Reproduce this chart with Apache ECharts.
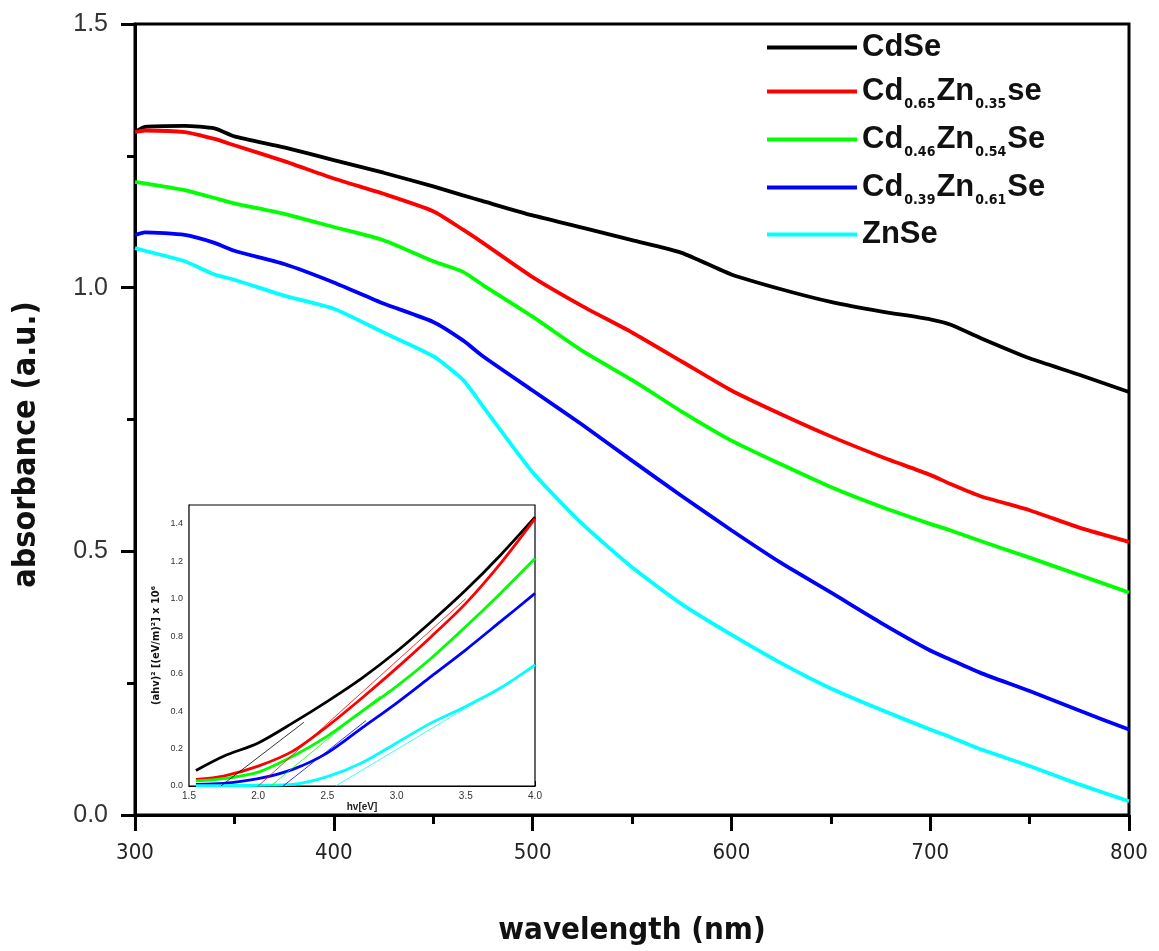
<!DOCTYPE html>
<html><head><meta charset="utf-8">
<script src="https://cdn.jsdelivr.net/npm/echarts@6/dist/echarts.min.js"></script>
<style>html,body{margin:0;padding:0;background:#fff}#c{width:1159px;height:951px}</style>
</head><body><div id="c"></div>
<script>
// ---- main chart data (absorbance vs wavelength) ----
const wavelengths = [300,305,325,340,350,375,400,425,450,465,475,500,525,550,575,600,625,650,675,700,710,725,750,775,800];
const absCdSe   = [1.295,1.305,1.307,1.302,1.287,1.266,1.242,1.218,1.192,1.175,1.164,1.137,1.114,1.090,1.066,1.025,0.997,0.973,0.955,0.940,0.930,0.905,0.866,0.835,0.802];
const absCd065  = [1.295,1.298,1.295,1.282,1.270,1.240,1.207,1.178,1.145,1.110,1.085,1.020,0.965,0.915,0.860,0.805,0.760,0.718,0.680,0.645,0.628,0.605,0.578,0.545,0.518];
const absCd046  = [1.200,1.198,1.185,1.170,1.160,1.140,1.115,1.090,1.050,1.030,1.005,0.945,0.880,0.825,0.765,0.710,0.665,0.622,0.585,0.552,0.540,0.520,0.488,0.455,0.422];
const absCd039  = [1.100,1.105,1.100,1.085,1.070,1.045,1.010,0.970,0.935,0.900,0.870,0.805,0.740,0.672,0.605,0.540,0.478,0.422,0.365,0.312,0.295,0.270,0.235,0.198,0.162];
const absZnSe   = [1.075,1.070,1.050,1.025,1.015,0.985,0.960,0.915,0.870,0.825,0.775,0.650,0.552,0.470,0.400,0.342,0.288,0.240,0.200,0.162,0.148,0.125,0.093,0.058,0.026];
const seriesNames = ['CdSe','Cd0.65Zn0.35se','Cd0.46Zn0.54Se','Cd0.39Zn0.61Se','ZnSe'];
const seriesColors = ['#000000','#ff0000','#00ff00','#0000ff','#00ffff'];

// ---- inset data (Tauc plot) ----
const energy   = [1.55,1.75,2.0,2.25,2.5,2.75,3.0,3.25,3.5,3.75,4.0];
const taucCdSe  = [0.083,0.159,0.230,0.337,0.452,0.576,0.718,0.877,1.046,1.232,1.435];
const taucCd065 = [0.035,0.053,0.106,0.186,0.319,0.470,0.629,0.797,0.975,1.187,1.427];
const taucCd046 = [0.027,0.039,0.074,0.159,0.266,0.399,0.532,0.682,0.851,1.028,1.214];
const taucCd039 = [0.009,0.014,0.039,0.089,0.177,0.310,0.443,0.585,0.727,0.877,1.028];
const taucZnSe  = [0.002,0.002,0.004,0.009,0.050,0.124,0.230,0.337,0.425,0.523,0.647];
// linear fits: start energy (value 0), end energy, end value
const fitStartEv = [1.73,2.00,2.09,2.18,2.56];
const fitEndEv   = [2.33,3.50,2.88,2.78,4.00];
const fitEndVal  = [0.34,1.00,0.48,0.35,0.638];

const mainData = [absCdSe,absCd065,absCd046,absCd039,absZnSe];
const taucData = [taucCdSe,taucCd065,taucCd046,taucCd039,taucZnSe];

const narrow = "'Liberation Sans Narrow','DejaVu Sans Condensed','Arial Narrow',sans-serif";
const sans = "'Liberation Sans',Arial,sans-serif";

const legendRich = {
  'CdSe': '{b|CdSe}',
  'Cd0.65Zn0.35se': '{b|Cd}{s|0.65}{b|Zn}{s|0.35}{b|se}',
  'Cd0.46Zn0.54Se': '{b|Cd}{s|0.46}{b|Zn}{s|0.54}{b|Se}',
  'Cd0.39Zn0.61Se': '{b|Cd}{s|0.39}{b|Zn}{s|0.61}{b|Se}',
  'ZnSe': '{b|ZnSe}'
};

const series = [];
seriesNames.forEach((n,i)=>{
  series.push({
    name:n, type:'line', xAxisIndex:0, yAxisIndex:0, showSymbol:false, smooth:0.2,
    lineStyle:{width:3.8,color:seriesColors[i]}, itemStyle:{color:seriesColors[i]},
    data: wavelengths.map((w,k)=>[w,mainData[i][k]]), z:3
  });
});
seriesNames.forEach((n,i)=>{
  series.push({
    name:n+' (inset)', type:'line', xAxisIndex:1, yAxisIndex:1, showSymbol:false, smooth:0.3,
    lineStyle:{width:2.8,color:seriesColors[i]}, itemStyle:{color:seriesColors[i]},
    data: energy.map((e,k)=>[e,taucData[i][k]]), z:5
  });
  series.push({
    name:n+' (fit)', type:'line', xAxisIndex:1, yAxisIndex:1, showSymbol:false,
    lineStyle:{width:0.8,color:seriesColors[i]}, itemStyle:{color:seriesColors[i]},
    data: [[fitStartEv[i],0],[fitEndEv[i],fitEndVal[i]]], z:6
  });
});

const chart = echarts.init(document.getElementById('c'), null, {renderer:'canvas'});
chart.setOption({
  animation:false,
  backgroundColor:'#fff',
  grid:[
    {left:135, top:24, width:994, height:808, show:true, borderColor:'#000', borderWidth:3, backgroundColor:'transparent'},
    {left:189, top:505, width:346, height:281, show:true, borderColor:'#000', borderWidth:1.2, backgroundColor:'#fff', z:4}
  ],
  legend:{
    data:seriesNames, orient:'vertical', left:762, top:27, itemGap:12,
    icon:'rect', itemWidth:90, itemHeight:4,
    formatter:n=>legendRich[n],
    textStyle:{
      rich:{
        b:{fontFamily:sans, fontWeight:'bold', fontSize:31, color:'#111', lineHeight:33, verticalAlign:'middle'},
        s:{fontFamily:narrow, fontWeight:'bold', fontSize:14, color:'#111', lineHeight:14, padding:[22,1,0,1], verticalAlign:'top'}
      }
    }
  },
  xAxis:[
    {gridIndex:0, type:'value', min:300, max:800, interval:100,
     name:'wavelength (nm)', nameLocation:'middle', nameGap:100,
     nameTextStyle:{fontFamily:narrow, fontWeight:'bold', fontSize:31, color:'#111'},
     axisLine:{lineStyle:{color:'#000',width:3}},
     axisTick:{length:16, lineStyle:{width:3,color:'#000'}},
     minorTick:{show:true, splitNumber:2, length:9, lineStyle:{width:3,color:'#000'}},
     splitLine:{show:false},
     axisLabel:{margin:27, fontFamily:narrow, fontSize:22, color:'#222'}},
    {gridIndex:1, type:'value', min:1.5, max:4.0, interval:0.5,
     name:'hv[eV]', nameLocation:'middle', nameGap:15,
     nameTextStyle:{fontFamily:sans, fontWeight:'bold', fontSize:10, color:'#222'},
     axisLine:{lineStyle:{color:'#000',width:1.2}},
     axisTick:{inside:true, length:5, lineStyle:{width:1,color:'#000'}},
     minorTick:{show:true, splitNumber:2, length:3, lineStyle:{width:1,color:'#000'}},
     splitLine:{show:false},
     axisLabel:{margin:5, fontFamily:sans, fontSize:10, color:'#333', formatter:v=>v.toFixed(1)}}
  ],
  yAxis:[
    {gridIndex:0, type:'value', min:0, max:1.5, interval:0.5,
     name:'absorbance (a.u.)', nameLocation:'middle', nameGap:92,
     nameTextStyle:{fontFamily:narrow, fontWeight:'bold', fontSize:32, color:'#111', padding:[0,50,0,0]},
     axisLine:{lineStyle:{color:'#000',width:3}},
     axisTick:{length:14, lineStyle:{width:3,color:'#000'}},
     minorTick:{show:true, splitNumber:2, length:8, lineStyle:{width:3,color:'#000'}},
     splitLine:{show:false},
     axisLabel:{margin:27, fontFamily:sans, fontSize:25, color:'#333', formatter:v=>v.toFixed(1)}},
    {gridIndex:1, type:'value', min:0, max:1.5, interval:0.2,
     name:'(ahv)² [(eV/m)²] x 10⁶', nameLocation:'middle', nameGap:27,
     nameTextStyle:{fontFamily:narrow, fontWeight:'bold', fontSize:11, color:'#111'},
     axisLine:{lineStyle:{color:'#000',width:1.2}},
     axisTick:{inside:true, length:5, lineStyle:{width:1,color:'#000'}},
     minorTick:{show:true, splitNumber:2, length:3, lineStyle:{width:1,color:'#000'}},
     splitLine:{show:false},
     axisLabel:{margin:6, fontFamily:sans, fontSize:9, color:'#333', showMaxLabel:false, formatter:v=>v.toFixed(1)}}
  ],
  series:series
});
</script></body></html>
